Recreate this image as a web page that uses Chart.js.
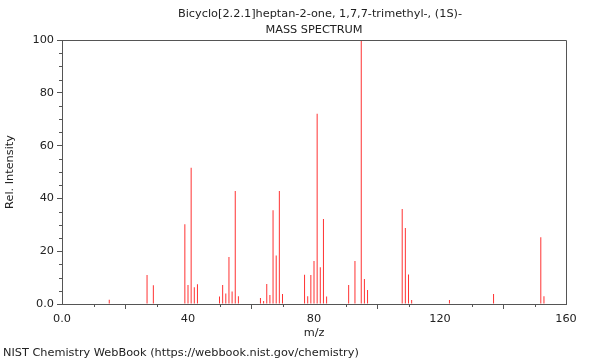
<!DOCTYPE html>
<html>
<head>
<meta charset="utf-8">
<script src="https://cdn.jsdelivr.net/npm/chart.js@4/dist/chart.umd.min.js"></script>
<style>
html,body{margin:0;padding:0;background:#fff;}
#wrap{width:600px;height:360px;position:relative;}
</style>
</head>
<body>
<div id="wrap"><canvas id="c" width="600" height="360"></canvas></div>
<script>
const titleLines = ["Bicyclo[2.2.1]heptan-2-one, 1,7,7-trimethyl-, (1S)-", "MASS SPECTRUM"];
const xTitle = "m/z";
const yTitle = "Rel. Intensity";
const footer = "NIST Chemistry WebBook (https://webbook.nist.gov/chemistry)";

const mz = [15, 27, 29, 39, 40, 41, 42, 43, 50, 51, 52, 53, 54, 55, 56,
            63, 64, 65, 66, 67, 68, 69, 70, 77, 78, 79, 80, 81, 82, 83, 84,
            91, 93, 95, 96, 97, 108, 109, 110, 111, 123, 137, 152, 153];
const intensity = [1.6, 11.0, 7.1, 30.2, 7.2, 51.6, 6.3, 7.5, 2.8, 7.2, 4.0, 17.8, 4.7, 42.8, 2.9,
            2.3, 1.1, 7.6, 3.4, 35.5, 18.4, 42.8, 3.8, 11.1, 2.9, 11.0, 16.3, 72.1, 13.9, 32.2, 2.8,
            7.2, 16.3, 100, 9.5, 5.3, 36.0, 28.8, 11.2, 1.5, 1.5, 3.8, 25.3, 2.9];

const xMin = 0, xMax = 160, xMajor = 40, xMinor = 10;
const yMin = 0, yMax = 100, yMajor = 20, yMinor = 5;

const FONT = "'DejaVu Sans', sans-serif";
const FSIZE = 11.3;
const TXT = '#222';
const AXIS = '#555';

const decor = {
  id: 'decor',
  afterDraw(chart) {
    const ctx = chart.ctx, a = chart.chartArea;
    const xs = chart.scales.x, ys = chart.scales.y;
    ctx.save();
    ctx.strokeStyle = AXIS;
    ctx.lineWidth = 1;
    ctx.beginPath();
    ctx.moveTo(Math.round(a.left) + 0.5, Math.round(a.top) + 0.5);
    ctx.lineTo(Math.round(a.right) + 0.5, Math.round(a.top) + 0.5);
    ctx.lineTo(Math.round(a.right) + 0.5, Math.round(a.bottom) + 0.5);
    ctx.stroke();
    ctx.beginPath();
    for (let v = xMin; v <= xMax; v += xMinor) {
      if (v % xMajor === 0) continue;
      const px = Math.round(xs.getPixelForValue(v)) + 0.5;
      ctx.moveTo(px, Math.round(a.bottom));
      ctx.lineTo(px, Math.round(a.bottom) + 3);
    }
    for (let v = yMin; v <= yMax; v += yMinor) {
      if (v % yMajor === 0) continue;
      const py = Math.round(ys.getPixelForValue(v)) + 0.5;
      ctx.moveTo(Math.round(a.left), py);
      ctx.lineTo(Math.round(a.left) - 3, py);
    }
    ctx.stroke();
    ctx.fillStyle = TXT;
    ctx.font = FSIZE + 'px ' + FONT;
    ctx.textAlign = 'center';
    ctx.textBaseline = 'middle';
    const cx = (a.left + a.right) / 2;
    ctx.fillText(titleLines[0], cx + 6, 14);
    ctx.fillText(titleLines[1], cx, 30);
    ctx.fillText(xTitle, cx, 333);
    ctx.textAlign = 'left';
    ctx.fillText(footer, 3, 353);
    ctx.translate(10, (a.top + a.bottom) / 2);
    ctx.rotate(-Math.PI / 2);
    ctx.textAlign = 'center';
    ctx.fillText(yTitle, 0, 0);
    ctx.restore();
  }
};

new Chart(document.getElementById('c'), {
  type: 'bar',
  data: {
    datasets: [{
      data: mz.map((m, i) => ({x: m, y: intensity[i]})),
      backgroundColor: 'rgb(255,50,50)',
      borderWidth: 0,
      barThickness: 1,
      inflateAmount: 0,
      grouped: false
    }]
  },
  options: {
    responsive: false,
    animation: false,
    devicePixelRatio: 1,
    layout: {padding: {left: 0, right: 34, top: 40, bottom: 0}},
    plugins: {legend: {display: false}, tooltip: {enabled: false}, title: {display: false}},
    scales: {
      x: {
        type: 'linear', min: xMin, max: xMax, offset: false,
        ticks: {stepSize: xMajor, color: TXT, font: {family: FONT, size: FSIZE}, padding: 3,
                maxRotation: 0, autoSkip: false,
                callback: v => v === 0 ? '0.0' : String(v)},
        grid: {drawOnChartArea: false, tickLength: 5, color: AXIS, tickColor: AXIS},
        border: {color: AXIS, width: 1},
        afterFit: s => { s.height = 56; }
      },
      y: {
        type: 'linear', min: yMin, max: yMax,
        ticks: {stepSize: yMajor, color: TXT, font: {family: FONT, size: FSIZE}, padding: 3,
                callback: v => v === 0 ? '0.0' : String(v)},
        grid: {drawOnChartArea: false, tickLength: 5, color: AXIS, tickColor: AXIS},
        border: {color: AXIS, width: 1},
        afterFit: s => { s.width = 62; }
      }
    }
  },
  plugins: [decor]
});
</script>
</body>
</html>
